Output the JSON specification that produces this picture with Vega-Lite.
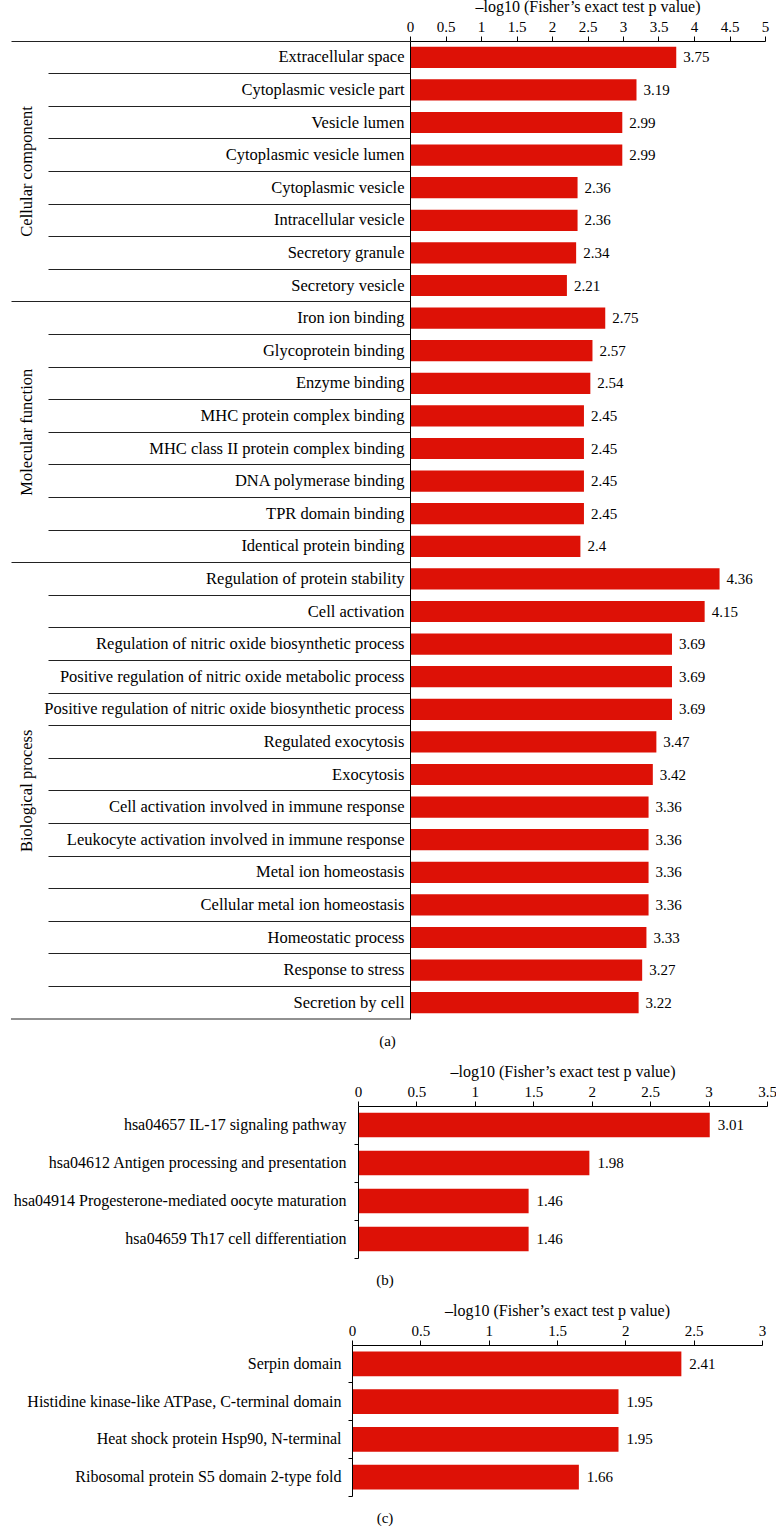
{
  "$schema": "https://vega.github.io/schema/vega-lite/v6.json",
  "padding": {"left": 9, "top": -2, "right": 0, "bottom": 0},
  "spacing": 14,
  "config": {
    "font": "Liberation Serif",
    "view": {"stroke": null},
    "concat": {"spacing": 0},
    "axis": {"labelFont": "Liberation Serif", "titleFont": "Liberation Serif", "labelColor": "black", "titleColor": "black", "domainColor": "black", "tickColor": "black", "titleFontWeight": "normal", "grid": false},
    "text": {"font": "Liberation Serif", "color": "black"},
    "title": {"font": "Liberation Serif", "fontWeight": "normal", "color": "black"}
  },
  "vconcat": [
    {
      "spacing": 0,
      "hconcat": [
        {"width": 1, "height": 1, "data": {"values": []}, "mark": "rule", "encoding": {}},
        {
          "width": 355,
          "height": 978,
          "data": {"values": [
            {"term": "Extracellular space", "group": "Cellular component", "value": 3.75},
            {"term": "Cytoplasmic vesicle part", "group": "Cellular component", "value": 3.19},
            {"term": "Vesicle lumen", "group": "Cellular component", "value": 2.99},
            {"term": "Cytoplasmic vesicle lumen", "group": "Cellular component", "value": 2.99},
            {"term": "Cytoplasmic vesicle", "group": "Cellular component", "value": 2.36},
            {"term": "Intracellular vesicle", "group": "Cellular component", "value": 2.36},
            {"term": "Secretory granule", "group": "Cellular component", "value": 2.34},
            {"term": "Secretory vesicle", "group": "Cellular component", "value": 2.21},
            {"term": "Iron ion binding", "group": "Molecular function", "value": 2.75},
            {"term": "Glycoprotein binding", "group": "Molecular function", "value": 2.57},
            {"term": "Enzyme binding", "group": "Molecular function", "value": 2.54},
            {"term": "MHC protein complex binding", "group": "Molecular function", "value": 2.45},
            {"term": "MHC class II protein complex binding", "group": "Molecular function", "value": 2.45},
            {"term": "DNA polymerase binding", "group": "Molecular function", "value": 2.45},
            {"term": "TPR domain binding", "group": "Molecular function", "value": 2.45},
            {"term": "Identical protein binding", "group": "Molecular function", "value": 2.4},
            {"term": "Regulation of protein stability", "group": "Biological process", "value": 4.36},
            {"term": "Cell activation", "group": "Biological process", "value": 4.15},
            {"term": "Regulation of nitric oxide biosynthetic process", "group": "Biological process", "value": 3.69},
            {"term": "Positive regulation of nitric oxide metabolic process", "group": "Biological process", "value": 3.69},
            {"term": "Positive regulation of nitric oxide biosynthetic process", "group": "Biological process", "value": 3.69},
            {"term": "Regulated exocytosis", "group": "Biological process", "value": 3.47},
            {"term": "Exocytosis", "group": "Biological process", "value": 3.42},
            {"term": "Cell activation involved in immune response", "group": "Biological process", "value": 3.36},
            {"term": "Leukocyte activation involved in immune response", "group": "Biological process", "value": 3.36},
            {"term": "Metal ion homeostasis", "group": "Biological process", "value": 3.36},
            {"term": "Cellular metal ion homeostasis", "group": "Biological process", "value": 3.36},
            {"term": "Homeostatic process", "group": "Biological process", "value": 3.33},
            {"term": "Response to stress", "group": "Biological process", "value": 3.27},
            {"term": "Secretion by cell", "group": "Biological process", "value": 3.22}
          ]},
          "title": {"text": "(a)", "orient": "bottom", "anchor": "start", "frame": "bounds", "align": "center", "dx": 377, "offset": 14, "fontSize": 15},
          "encoding": {
            "y": {
              "field": "term", "type": "nominal", "sort": null,
              "scale": {"paddingInner": 0, "paddingOuter": 0},
              "axis": {
                "title": null, "zindex": 1, "bandPosition": 0, "tickColor": "#222",
                "tickSize": {"condition": {"test": "indexof(['Extracellular space','Iron ion binding','Regulation of protein stability'], datum.value) >= 0", "value": 399}, "value": 362},
                "labelPadding": {"condition": {"test": "indexof(['Extracellular space','Iron ion binding','Regulation of protein stability'], datum.value) >= 0", "value": -393}, "value": -356},
                "labelFontSize": 16.5, "labelLimit": 600
              }
            }
          },
          "layer": [
            {
              "mark": {"type": "bar", "color": "#dd1106", "height": {"band": 0.65}},
              "encoding": {
                "x": {"field": "value", "type": "quantitative", "scale": {"domain": [0, 5]},
                  "axis": {"orient": "top", "title": "–log10 (Fisher’s exact test p value)", "tickCount": 10, "format": ".1~f", "tickSize": 5, "labelPadding": 2, "titlePadding": 5, "labelFontSize": 15, "titleFontSize": 16, "labelFlush": false}}
              }
            },
            {
              "mark": {"type": "text", "align": "left", "baseline": "middle", "dx": 7, "fontSize": 15},
              "encoding": {
                "x": {"field": "value", "type": "quantitative"},
                "text": {"field": "value", "type": "nominal"}
              }
            },
            {
              "mark": {"type": "text", "angle": 270, "align": "center", "baseline": "middle", "fontSize": 16.5},
              "encoding": {
                "x": {"datum": -5.39},
                "y": {"field": "term", "type": "nominal", "sort": null, "bandPosition": 0},
                "text": {"condition": {"test": "indexof(['Cytoplasmic vesicle','MHC class II protein complex binding','Cell activation involved in immune response'], datum.term) >= 0", "field": "group"}, "value": ""}
              }
            },
            {
              "mark": {"type": "rule", "color": "#222"},
              "encoding": {
                "x": {"datum": -5.62},
                "x2": {"datum": 0},
                "y": {"field": "term", "type": "nominal", "sort": null, "bandPosition": 1},
                "strokeOpacity": {"condition": {"test": "datum.term === 'Secretion by cell'", "value": 1}, "value": 0}
              }
            }
          ]
        }
      ]
    },
    {
      "spacing": 0,
      "hconcat": [
        {"width": 1, "height": 1, "data": {"values": []}, "mark": "rule", "encoding": {}},
        {
          "width": 409,
          "height": 152,
          "data": {"values": [
            {"term": "hsa04657 IL-17 signaling pathway", "value": 3.01},
            {"term": "hsa04612 Antigen processing and presentation", "value": 1.98},
            {"term": "hsa04914 Progesterone-mediated oocyte maturation", "value": 1.46},
            {"term": "hsa04659 Th17 cell differentiation", "value": 1.46}
          ]},
          "title": {"text": "(b)", "orient": "bottom", "anchor": "start", "frame": "bounds", "align": "center", "dx": 375, "offset": 14, "fontSize": 15},
          "encoding": {
            "y": {
              "field": "term", "type": "nominal", "sort": null,
              "scale": {"paddingInner": 0, "paddingOuter": 0},
              "axis": {"title": null, "zindex": 1, "bandPosition": 1, "tickSize": 4, "labelPadding": 8, "labelFontSize": 16, "labelLimit": 600, "minExtent": 348}
            }
          },
          "layer": [
            {
              "mark": {"type": "bar", "color": "#dd1106", "height": {"band": 0.65}},
              "encoding": {
                "x": {"field": "value", "type": "quantitative", "scale": {"domain": [0, 3.5]},
                  "axis": {"orient": "top", "title": "–log10 (Fisher’s exact test p value)", "tickCount": 7, "format": ".1~f", "tickSize": 5, "labelPadding": 2, "titlePadding": 5, "labelFontSize": 15, "titleFontSize": 16, "labelFlush": false}}
              }
            },
            {
              "mark": {"type": "text", "align": "left", "baseline": "middle", "dx": 8, "fontSize": 15},
              "encoding": {
                "x": {"field": "value", "type": "quantitative"},
                "text": {"field": "value", "type": "nominal"}
              }
            }
          ]
        }
      ]
    },
    {
      "spacing": 0,
      "hconcat": [
        {"width": 1, "height": 1, "data": {"values": []}, "mark": "rule", "encoding": {}},
        {
          "width": 410,
          "height": 151,
          "data": {"values": [
            {"term": "Serpin domain", "value": 2.41},
            {"term": "Histidine kinase-like ATPase, C-terminal domain", "value": 1.95},
            {"term": "Heat shock protein Hsp90, N-terminal", "value": 1.95},
            {"term": "Ribosomal protein S5 domain 2-type fold", "value": 1.66}
          ]},
          "title": {"text": "(c)", "orient": "bottom", "anchor": "start", "frame": "bounds", "align": "center", "dx": 375, "offset": 14, "fontSize": 15},
          "encoding": {
            "y": {
              "field": "term", "type": "nominal", "sort": null,
              "scale": {"paddingInner": 0, "paddingOuter": 0},
              "axis": {"title": null, "zindex": 1, "bandPosition": 1, "tickSize": 4, "labelPadding": 7, "labelFontSize": 16, "labelLimit": 600, "minExtent": 342}
            }
          },
          "layer": [
            {
              "mark": {"type": "bar", "color": "#dd1106", "height": {"band": 0.65}},
              "encoding": {
                "x": {"field": "value", "type": "quantitative", "scale": {"domain": [0, 3]},
                  "axis": {"orient": "top", "title": "–log10 (Fisher’s exact test p value)", "tickCount": 6, "format": ".1~f", "tickSize": 5, "labelPadding": 2, "titlePadding": 5, "labelFontSize": 15, "titleFontSize": 16, "labelFlush": false}}
              }
            },
            {
              "mark": {"type": "text", "align": "left", "baseline": "middle", "dx": 8, "fontSize": 15},
              "encoding": {
                "x": {"field": "value", "type": "quantitative"},
                "text": {"field": "value", "type": "nominal"}
              }
            }
          ]
        }
      ]
    }
  ]
}
